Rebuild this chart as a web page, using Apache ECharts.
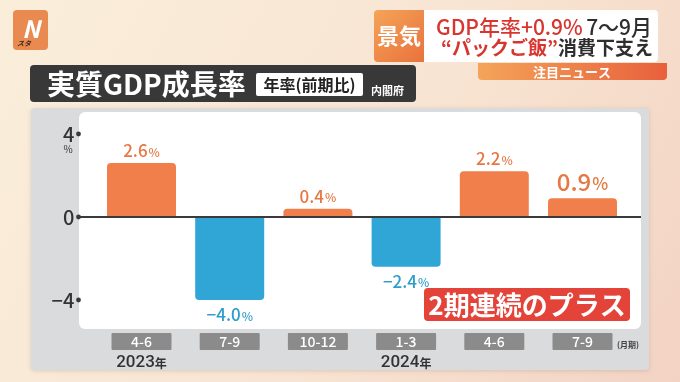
<!DOCTYPE html>
<html><head><meta charset="utf-8">
<script src="https://cdn.jsdelivr.net/npm/echarts@6/dist/echarts.min.js"></script>
<style>html,body{margin:0;padding:0;}#c{width:680px;height:382px;}</style>
</head><body><div id="c"></div>
<script>
const categories = ['4-6', '7-9', '10-12', '1-3', '4-6', '7-9'];
const years = ['2023', '', '', '2024', '', ''];
const values = [2.6, -4.0, 0.4, -2.4, 2.2, 0.9];
const yTicks = [-4, 0, 4];

const FONT = '"Noto Sans CJK JP", "Noto Sans", sans-serif';
const JP = 'Noto Sans CJK JP';
const ORANGE = '#f17f4c';
const BLUE = '#2fa6d6';
const ORANGE_T = '#e57843';
const BLUE_T = '#2e9dca';

const chart = echarts.init(document.getElementById('c'), null, {renderer: 'canvas'});

function fmtNum(v) {
  const s = Math.abs(v).toFixed(1);
  return (v < 0 ? '−' : '') + s;
}

const barData = values.map((v, i) => {
  const pos = v >= 0;
  const big = i === values.length - 1;
  return {
    value: v,
    itemStyle: {
      color: pos ? ORANGE : BLUE,
      borderRadius: pos ? [4, 4, 0, 0] : [0, 0, 4, 4]
    },
    label: {
      show: true,
      position: pos ? 'top' : 'bottom',
      distance: pos ? 4 : 6,
      formatter: (big ? '{nb|' : '{n|') + fmtNum(v) + '}' + (big ? '{pb|%}' : '{p|%}'),
      rich: {
        n: {fontFamily: JP, fontSize: 17, fontWeight: 500, color: pos ? ORANGE_T : BLUE_T},
        p: {fontFamily: JP, fontSize: 12, fontWeight: 500, color: pos ? ORANGE_T : BLUE_T, padding: [3, 0, 0, 1]},
        nb: {fontFamily: JP, fontSize: 24, fontWeight: 500, color: ORANGE_T},
        pb: {fontFamily: JP, fontSize: 17, fontWeight: 500, color: ORANGE_T, padding: [3, 0, 0, 1]}
      }
    }
  };
});

const option = {
  animation: false,
  backgroundColor: {
    type: 'linear', x: 0, y: 0, x2: 1, y2: 1,
    colorStops: [
      {offset: 0, color: '#faeedb'},
      {offset: 0.55, color: '#f8e4d2'},
      {offset: 1, color: '#f3d3c3'}
    ]
  },
  grid: {left: 97.4, right: 53.4, top: 134, bottom: 82, containLabel: false},
  xAxis: {
    type: 'category',
    data: categories,
    axisLine: {show: false, onZero: false},
    axisTick: {show: false},
    axisLabel: {
      interval: 0,
      margin: 33,
      fontFamily: JP,
      formatter: function (v, i) {
        let s = '{b|' + v + '}';
        if (years[i]) s += '\n{y|' + years[i] + '}{n|年}';
        return s;
      },
      rich: {
        b: {fontFamily: JP, fontSize: 14, fontWeight: 500, color: '#ffffff', backgroundColor: '#8b8b8b',
            width: 60, height: 17, lineHeight: 17, align: 'center', borderRadius: 1},
        y: {fontFamily: 'Roboto, sans-serif', fontSize: 17, fontWeight: 500, color: '#333333', lineHeight: 25},
        n: {fontFamily: JP, fontSize: 12, fontWeight: 'bold', color: '#333333', lineHeight: 25, padding: [2, 0, 0, 0]}
      }
    }
  },
  yAxis: {
    type: 'value',
    min: -4, max: 4, interval: 4,
    axisLine: {show: false},
    axisTick: {show: false},
    splitLine: {show: false},
    axisLabel: {
      margin: 23,
      fontFamily: JP,
      fontSize: 20,
      fontWeight: 500,
      color: '#333333',
      formatter: v => (v < 0 ? '−' + Math.abs(v) : String(v))
    }
  },
  series: [{
    type: 'bar',
    data: barData,
    barWidth: 69,
    z: 3
  }]
};
chart.setOption(option);

function buildGraphic() {
  const y0 = chart.convertToPixel({yAxisIndex: 0}, 0);
  const y4 = chart.convertToPixel({yAxisIndex: 0}, 4);
  const g = [];
  // logo
  g.push({type: 'rect', shape: {x: 13, y: 10, width: 35, height: 40, r: 4}, style: {fill: '#e98a50'}, z: 0});
  g.push({type: 'text', x: 31, y: 29, style: {text: 'N', font: 'italic bold 24px ' + FONT, fill: '#ffffff', align: 'center', verticalAlign: 'middle'}, z: 1});
  g.push({type: 'text', x: 24, y: 43, style: {text: 'スタ', font: 'italic bold 7px ' + FONT, fill: '#3a2a20', align: 'center', verticalAlign: 'middle'}, z: 1});
  // top right headline
  g.push({type: 'rect', shape: {x: 374, y: 10, width: 50, height: 52, r: [4, 0, 0, 4]},
    style: {fill: {type: 'linear', x: 0, y: 0, x2: 1, y2: 1, colorStops: [{offset: 0, color: '#f4a457'}, {offset: 1, color: '#e9723d'}]}}, z: 0});
  g.push({type: 'text', x: 399, y: 36, style: {text: '景気', font: 'bold 22px ' + FONT, fill: '#ffffff', align: 'center', verticalAlign: 'middle'}, z: 1});
  g.push({type: 'rect', shape: {x: 424, y: 10, width: 234, height: 52, r: [0, 4, 4, 0]}, style: {fill: '#ffffff'}, z: 0});
  g.push({type: 'rect', shape: {x: 478, y: 63, width: 189, height: 17, r: [0, 0, 4, 4]},
    style: {fill: {type: 'linear', x: 0, y: 0, x2: 1, y2: 0, colorStops: [{offset: 0, color: '#f4a45a'}, {offset: 1, color: '#e8603c'}]}}, z: 0});
  g.push({type: 'text', x: 572, y: 72, style: {text: '注目ニュース', font: 'bold 13px ' + FONT, fill: '#ffffff', align: 'center', verticalAlign: 'middle'}, z: 1});
  g.push({type: 'text', x: 544, y: 27, style: {
    text: '{r|GDP年率+0.9%} {d|7～9月}', align: 'center', verticalAlign: 'middle',
    rich: {r: {font: '500 21px ' + FONT, fill: '#d8352f'}, d: {font: '500 21px ' + FONT, fill: '#2e2e2e'}}
  }, z: 1});
  g.push({type: 'text', x: 547, y: 48, style: {
    text: '{r|“パックご飯”}{d|消費下支え}', align: 'center', verticalAlign: 'middle',
    rich: {r: {font: 'bold 19px ' + FONT, fill: '#d8352f'}, d: {font: 'bold 19px ' + FONT, fill: '#2e2e2e'}}
  }, z: 1});
  // title bar
  g.push({type: 'rect', shape: {x: 30, y: 65, width: 386, height: 37, r: 4}, style: {fill: '#383838'}, z: 0});
  g.push({type: 'text', x: 47, y: 84, style: {text: '実質GDP成長率', font: 'bold 28px ' + FONT, fill: '#ffffff', align: 'left', verticalAlign: 'middle'}, z: 1});
  g.push({type: 'rect', shape: {x: 256, y: 73, width: 107, height: 23, r: 2}, style: {fill: '#ffffff'}, z: 1});
  g.push({type: 'text', x: 309.5, y: 85, style: {text: '年率(前期比)', font: 'bold 16px ' + FONT, fill: '#222222', align: 'center', verticalAlign: 'middle'}, z: 2});
  g.push({type: 'text', x: 371, y: 91, style: {text: '内閣府', font: 'bold 11px ' + FONT, fill: '#ffffff', align: 'left', verticalAlign: 'middle'}, z: 1});
  // panel
  g.push({type: 'rect', shape: {x: 31, y: 108, width: 618, height: 262, r: 4},
    style: {fill: '#d9dbdc', shadowBlur: 4, shadowColor: 'rgba(0,0,0,0.12)', shadowOffsetY: 1}, z: 0});
  g.push({type: 'rect', shape: {x: 79, y: 112, width: 562, height: 217, r: 6}, style: {fill: '#ffffff'}, z: 0});
  // zero line
  g.push({type: 'line', shape: {x1: 79, y1: y0, x2: 641, y2: y0}, style: {stroke: '#3a3a3a', lineWidth: 2}, z: 10});
  yTicks.forEach(t => {
    const yy = chart.convertToPixel({yAxisIndex: 0}, t);
    g.push({type: 'circle', shape: {cx: 78.5, cy: yy, r: 2.4}, style: {fill: '#3a3a3a'}, z: 10});
  });
  g.push({type: 'text', x: 68, y: y4 + 15, style: {text: '%', font: '10px ' + FONT, fill: '#333333', align: 'center', verticalAlign: 'middle'}, z: 10});
  g.push({type: 'text', x: 617, y: 345, style: {text: '(月期)', font: 'bold 8px ' + FONT, fill: '#444444', align: 'left', verticalAlign: 'middle'}, z: 10});
  // callout
  g.push({type: 'rect', shape: {x: 424, y: 288, width: 206, height: 33, r: 4}, style: {fill: '#e4433a'}, z: 10});
  g.push({type: 'text', x: 527, y: 305, style: {text: '2期連続のプラス', font: 'bold 26px ' + FONT, fill: '#ffffff', align: 'center', verticalAlign: 'middle'}, z: 11});
  return g;
}
chart.setOption({graphic: buildGraphic()});
</script>
</body></html>
